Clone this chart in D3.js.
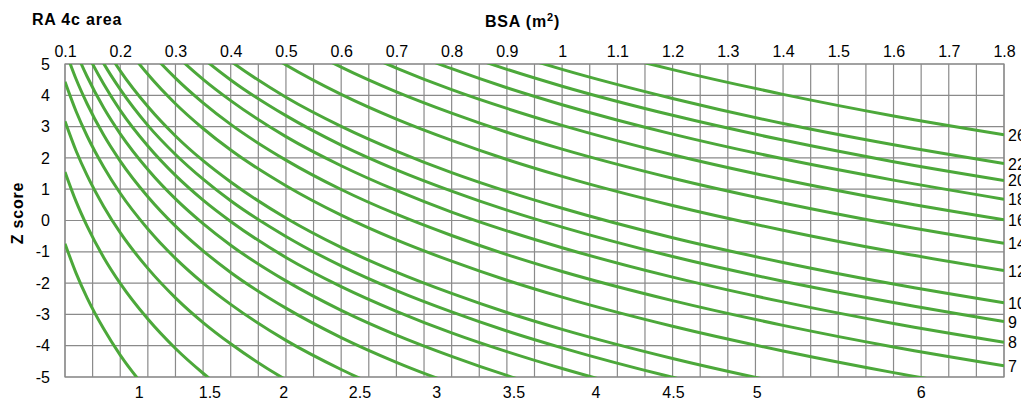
<!DOCTYPE html>
<html>
<head>
<meta charset="utf-8">
<script src="https://cdn.jsdelivr.net/npm/d3@7"></script>
<style>
body { margin: 0; background: #fff; }
text { font-family: "Liberation Sans", Arial, sans-serif; fill: #000; }
</style>
</head>
<body>
<script>
// BSA sample points shared by every curve
var bsa = [0.1, 0.12, 0.14, 0.17, 0.2, 0.25, 0.3, 0.35, 0.4, 0.5, 0.6, 0.7, 0.8, 0.9, 1.0, 1.2, 1.4, 1.6, 1.8];

// RA 4c area (cm2) of each curve
var areas = [1, 1.5, 2, 2.5, 3, 3.5, 4, 4.5, 5, 6, 7, 8, 9, 10, 12, 14, 16, 18, 20, 22, 26];

// Z score of each curve at the bsa points (null = far off the chart)
var n = null;
var zRows = [
    [-0.74, -1.68, -2.47, -3.46, -4.30, -5.44, -6.38, -7.17, n, n, n, n, n, n, n, n, n, n, n],
    [1.55, 0.61, -0.18, -1.18, -2.01, -3.15, -4.09, -4.88, -5.57, -6.71, n, n, n, n, n, n, n, n, n],
    [3.17, 2.23, 1.44, 0.45, -0.39, -1.53, -2.47, -3.26, -3.94, -5.09, -6.02, -6.81, -7.50, n, n, n, n, n, n],
    [4.43, 3.49, 2.70, 1.71, 0.87, -0.27, -1.21, -2.00, -2.68, -3.83, -4.76, -5.55, -6.24, -6.84, -7.38, n, n, n, n],
    [5.46, 4.52, 3.73, 2.73, 1.90, 0.76, -0.18, -0.97, -1.66, -2.80, -3.74, -4.53, -5.21, -5.82, -6.36, -7.29, n, n, n],
    [6.33, 5.39, 4.60, 3.60, 2.77, 1.63, 0.69, -0.10, -0.79, -1.93, -2.87, -3.66, -4.34, -4.95, -5.49, -6.42, -7.21, n, n],
    [7.08, 6.14, 5.35, 4.36, 3.52, 2.38, 1.44, 0.65, -0.03, -1.18, -2.11, -2.90, -3.59, -4.19, -4.73, -5.67, -6.46, -7.14, n],
    [n, 6.81, 6.02, 5.02, 4.19, 3.04, 2.11, 1.32, 0.63, -0.51, -1.45, -2.24, -2.92, -3.53, -4.07, -5.01, -5.80, -6.48, -7.09],
    [n, 7.40, 6.61, 5.62, 4.78, 3.64, 2.70, 1.91, 1.23, 0.08, -0.86, -1.65, -2.33, -2.94, -3.48, -4.41, -5.20, -5.89, -6.49],
    [n, n, n, 6.64, 5.81, 4.67, 3.73, 2.94, 2.25, 1.11, 0.17, -0.62, -1.30, -1.91, -2.45, -3.38, -4.17, -4.86, -5.46],
    [n, n, n, n, 6.63, 5.48, 4.55, 3.76, 3.07, 1.93, 0.99, 0.20, -0.48, -1.09, -1.63, -2.56, -3.35, -4.04, -4.64],
    [n, n, n, n, 7.38, 6.24, 5.30, 4.51, 3.83, 2.68, 1.75, 0.96, 0.27, -0.33, -0.87, -1.81, -2.60, -3.29, -3.89],
    [n, n, n, n, n, 6.90, 5.97, 5.18, 4.49, 3.35, 2.41, 1.62, 0.94, 0.33, -0.21, -1.15, -1.94, -2.62, -3.23],
    [n, n, n, n, n, n, 6.56, 5.77, 5.09, 3.94, 3.01, 2.22, 1.53, 0.93, 0.39, -0.55, -1.34, -2.03, -2.63],
    [n, n, n, n, n, n, n, 6.80, 6.11, 4.97, 4.03, 3.24, 2.56, 1.95, 1.41, 0.48, -0.31, -1.00, -1.60],
    [n, n, n, n, n, n, n, n, 6.98, 5.84, 4.90, 4.11, 3.43, 2.82, 2.28, 1.35, 0.56, -0.13, -0.73],
    [n, n, n, n, n, n, n, n, n, 6.59, 5.66, 4.87, 4.18, 3.58, 3.04, 2.10, 1.31, 0.62, 0.02],
    [n, n, n, n, n, n, n, n, n, 7.26, 6.32, 5.53, 4.85, 4.24, 3.70, 2.76, 1.97, 1.29, 0.68],
    [n, n, n, n, n, n, n, n, n, n, 6.91, 6.12, 5.44, 4.83, 4.29, 3.36, 2.57, 1.88, 1.28],
    [n, n, n, n, n, n, n, n, n, n, 7.45, 6.66, 5.98, 5.37, 4.83, 3.90, 3.10, 2.42, 1.82],
    [n, n, n, n, n, n, n, n, n, n, n, n, 6.90, 6.29, 5.75, 4.82, 4.03, 3.34, 2.74]
];

var xTicks = [0.1, 0.2, 0.3, 0.4, 0.5, 0.6, 0.7, 0.8, 0.9, 1, 1.1, 1.2, 1.3, 1.4, 1.5, 1.6, 1.7, 1.8];
var yTicks = [5, 4, 3, 2, 1, 0, -1, -2, -3, -4, -5];

var WIDTH = 1021;
var HEIGHT = 403;
var LEFT = 65, RIGHT = 1004, TOP = 64, BOTTOM = 377;
var GRID = '#8a8a8a';
var GREEN = '#4ca83a';

var svg = d3.select('body').append('svg')
    .attr('width', WIDTH)
    .attr('height', HEIGHT)
    .style('display', 'block')
    .style('background', '#fff');

var x = d3.scaleLinear().domain([0.1, 1.8]).range([LEFT, RIGHT]);
var y = d3.scaleLinear().domain([-5, 5]).range([BOTTOM, TOP]);

// grid: verticals every 0.05, horizontals every 1
var vGrid = d3.range(0, 35).map(function(i){ return 0.1 + i * 0.05; });
svg.append('g').selectAll('line').data(vGrid).enter()
    .append('line')
    .attr('x1', function(d){ return x(d); })
    .attr('x2', function(d){ return x(d); })
    .attr('y1', TOP).attr('y2', BOTTOM)
    .attr('stroke', GRID).attr('stroke-width', 1.2);
svg.append('g').selectAll('line').data(yTicks).enter()
    .append('line')
    .attr('x1', LEFT).attr('x2', RIGHT)
    .attr('y1', function(d){ return y(d); })
    .attr('y2', function(d){ return y(d); })
    .attr('stroke', GRID).attr('stroke-width', 1.2);
svg.append('rect')
    .attr('x', LEFT).attr('y', TOP)
    .attr('width', RIGHT - LEFT).attr('height', BOTTOM - TOP)
    .attr('fill', 'none').attr('stroke', GRID).attr('stroke-width', 1.2);

// axes (labels only)
var xAxis = svg.append('g')
    .attr('transform', 'translate(0,' + TOP + ')')
    .call(d3.axisTop(x).tickValues(xTicks).tickSize(0).tickPadding(7).tickFormat(function(d){ return d; }));
var yAxis = svg.append('g')
    .attr('transform', 'translate(' + LEFT + ',0)')
    .call(d3.axisLeft(y).tickValues(yTicks).tickSize(0).tickPadding(15).tickFormat(function(d){ return d; }));
[xAxis, yAxis].forEach(function(g){
    g.select('.domain').remove();
    g.attr('font-family', null).attr('font-size', null);
    g.selectAll('text').attr('font-size', 16).attr('fill', '#000');
});

svg.append('defs').append('clipPath').attr('id', 'plot-clip')
    .append('rect')
    .attr('x', LEFT).attr('y', TOP)
    .attr('width', RIGHT - LEFT).attr('height', BOTTOM - TOP);

var line = d3.line()
    .defined(function(d){ return d[1] !== null; })
    .x(function(d){ return x(d[0]); })
    .y(function(d){ return y(d[1]); })
    .curve(d3.curveMonotoneX);

var series = areas.map(function(a, i){
    return { area: a, points: bsa.map(function(b, j){ return [b, zRows[i][j]]; }) };
});

svg.append('g').attr('clip-path', 'url(#plot-clip)')
    .selectAll('path').data(series).enter()
    .append('path')
    .attr('d', function(d){ return line(d.points); })
    .attr('fill', 'none')
    .attr('stroke', GREEN)
    .attr('stroke-width', 3)
    .attr('stroke-linejoin', 'round');

// curve labels: on the right edge, or under the point where the curve leaves the bottom
function bottomCrossing(points){
    for (var j = 1; j < points.length; j++){
        var p = points[j - 1], q = points[j];
        if (p[1] !== null && q[1] !== null && p[1] >= -5 && q[1] < -5){
            return p[0] + (q[0] - p[0]) * (p[1] + 5) / (p[1] - q[1]);
        }
    }
    return null;
}

var labels = svg.append('g').attr('font-size', 16);
series.forEach(function(s){
    var last = s.points[s.points.length - 1][1];
    if (last !== null && last >= -5){
        labels.append('text')
            .attr('x', RIGHT + 4)
            .attr('y', y(last) + 6)
            .text(s.area);
    } else {
        var b = bottomCrossing(s.points);
        labels.append('text')
            .attr('x', x(b) + 2)
            .attr('y', BOTTOM + 21)
            .attr('text-anchor', 'middle')
            .text(s.area);
    }
});

// titles
svg.append('text')
    .attr('x', 32).attr('y', 25)
    .attr('font-size', 16).attr('font-weight', 'bold')
    .attr('letter-spacing', 0.8)
    .text('RA 4c area');

var bsaTitle = svg.append('text')
    .attr('x', 485).attr('y', 27)
    .attr('font-size', 16).attr('font-weight', 'bold')
    .attr('letter-spacing', 0.8);
bsaTitle.append('tspan').text('BSA (m');
bsaTitle.append('tspan').attr('font-size', 11).attr('dy', -6).text('2');
bsaTitle.append('tspan').attr('dy', 6).text(')');

svg.append('text')
    .attr('transform', 'translate(23,213) rotate(-90)')
    .attr('text-anchor', 'middle')
    .attr('font-size', 16).attr('font-weight', 'bold')
    .attr('letter-spacing', 0.8)
    .text('Z score');
</script>
</body>
</html>
